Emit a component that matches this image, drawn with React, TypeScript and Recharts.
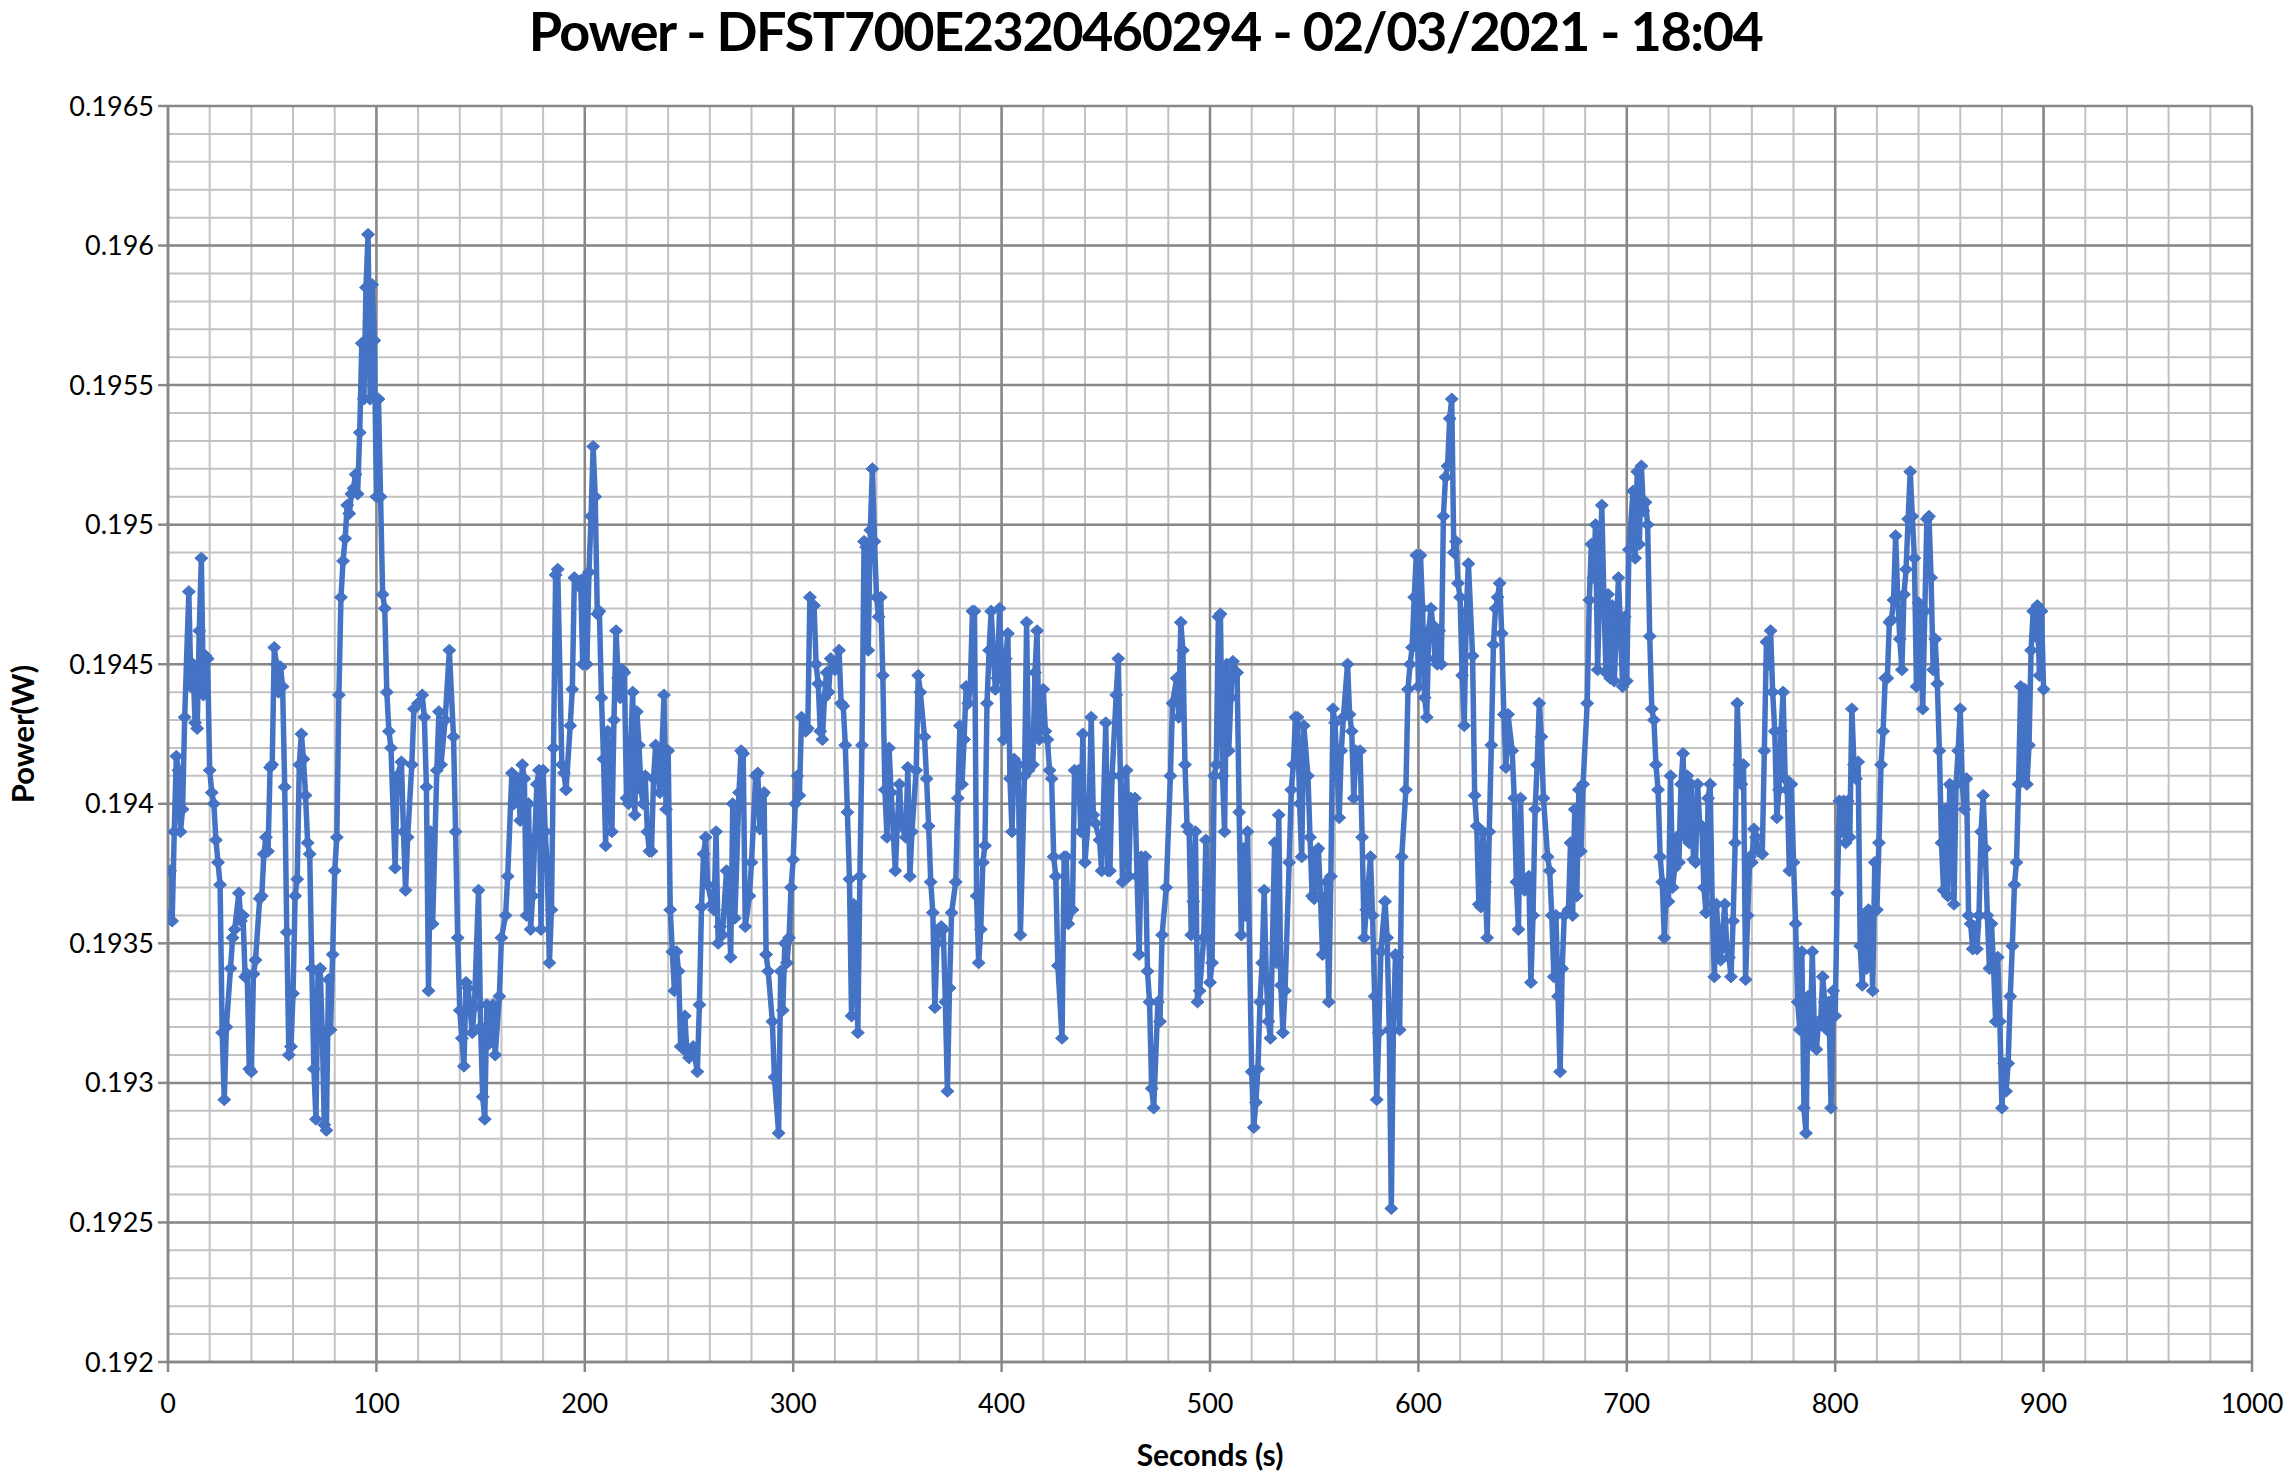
import React from 'react';
import { LineChart, Line, XAxis, YAxis, CartesianGrid } from 'recharts';

// ---------- data ----------
const sec000 = [0,1,2,3,4,5,6,7,8,10,11,12,13,14,15,16,17,18,19,20,21,22,23,24,25,26,27,28,30,31,32,34,35,36,37,38,39,40,41,42,44,45,46,47,48,49,50,51,52,53,54,55,56,57,58,59,60,61,62,63,64,65,66,67,68,69,70,71,72,73,74,75,76,77,78,79,80,81,82,83,84,85,86,87,88,89,90,91,92,93,94,95,96,97,98,99];
const pow000 = [0.19360,0.19376,0.19358,0.19390,0.19417,0.19412,0.19390,0.19398,0.19431,0.19476,0.19442,0.19450,0.19429,0.19427,0.19462,0.19488,0.19439,0.19453,0.19452,0.19412,0.19404,0.19400,0.19387,0.19379,0.19371,0.19318,0.19294,0.19320,0.19341,0.19352,0.19355,0.19368,0.19358,0.19360,0.19338,0.19339,0.19305,0.19304,0.19339,0.19344,0.19366,0.19367,0.19382,0.19388,0.19383,0.19413,0.19414,0.19456,0.19450,0.19440,0.19449,0.19442,0.19406,0.19354,0.19310,0.19313,0.19332,0.19367,0.19373,0.19414,0.19425,0.19416,0.19403,0.19386,0.19382,0.19341,0.19305,0.19287,0.19340,0.19341,0.19319,0.19285,0.19283,0.19337,0.19319,0.19346,0.19376,0.19388,0.19439,0.19474,0.19487,0.19495,0.19507,0.19504,0.19511,0.19513,0.19518,0.19511,0.19533,0.19565,0.19545,0.19585,0.19604,0.19545,0.19586,0.19566];

const sec100 = [100,101,102,103,104,105,106,107,109,110,112,113,114,115,117,118,120,122,123,124,125,126,127,129,130,131,133,135,137,138,139,140,141,142,143,144,146,147,149,150,151,152,153,154,156,157,159,160,162,163,165,166,168,169,170,171,172,173,174,175,176,177,178,179,180,181,182,183,184,185,186,187,189,190,191,193,194,195,197,198,199];
const pow100 = [0.19510,0.19545,0.19510,0.19475,0.19470,0.19440,0.19426,0.19420,0.19377,0.19410,0.19415,0.19390,0.19369,0.19388,0.19414,0.19434,0.19436,0.19439,0.19431,0.19406,0.19333,0.19390,0.19357,0.19412,0.19433,0.19414,0.19430,0.19455,0.19424,0.19390,0.19352,0.19326,0.19316,0.19306,0.19336,0.19334,0.19318,0.19327,0.19369,0.19320,0.19295,0.19287,0.19328,0.19314,0.19328,0.19310,0.19331,0.19352,0.19360,0.19374,0.19411,0.19400,0.19409,0.19394,0.19414,0.19409,0.19360,0.19400,0.19355,0.19367,0.19388,0.19407,0.19412,0.19355,0.19412,0.19390,0.19377,0.19343,0.19362,0.19420,0.19482,0.19484,0.19414,0.19411,0.19405,0.19428,0.19441,0.19481,0.19478,0.19480,0.19450];

const sec200 = [200,201,202,203,204,205,206,207,208,209,210,211,213,214,215,216,217,218,219,220,221,222,223,224,225,226,227,228,229,230,231,232,233,234,236,237,238,239,240,241,242,243,244,245,246,248,249,250,252,254,255,256,257,258,259,261,262,263,264,265,266,268,269,270,271,272,274,275,276,277,279,280,282,283,284,285,286,287,288,290,291,293,294,295,296,297,298,299];
const pow200 = [0.19481,0.19450,0.19483,0.19503,0.19528,0.19510,0.19468,0.19469,0.19438,0.19416,0.19385,0.19426,0.19390,0.19430,0.19462,0.19445,0.19438,0.19448,0.19447,0.19402,0.19400,0.19421,0.19440,0.19396,0.19433,0.19421,0.19405,0.19400,0.19410,0.19390,0.19383,0.19383,0.19409,0.19421,0.19404,0.19419,0.19439,0.19398,0.19419,0.19362,0.19347,0.19333,0.19347,0.19340,0.19313,0.19324,0.19311,0.19309,0.19313,0.19304,0.19328,0.19363,0.19382,0.19388,0.19371,0.19364,0.19362,0.19390,0.19350,0.19356,0.19353,0.19376,0.19367,0.19345,0.19400,0.19359,0.19404,0.19419,0.19418,0.19356,0.19367,0.19379,0.19410,0.19411,0.19391,0.19403,0.19404,0.19346,0.19340,0.19322,0.19302,0.19282,0.19340,0.19326,0.19350,0.19343,0.19352,0.19370];

const sec300 = [300,301,302,303,304,306,307,308,310,311,312,313,314,315,316,317,318,320,322,323,324,325,326,327,328,329,330,331,332,333,334,335,336,337,338,339,340,341,342,343,344,345,346,347,349,350,351,352,354,355,356,357,359,360,361,363,364,365,366,367,368,369,370,371,372,373,374,375,376,378,379,380,381,382,383,384,385,386,387,388,389,390,391,392,393,394,395,396,397,398,399];
const pow300 = [0.19380,0.19400,0.19410,0.19403,0.19431,0.19426,0.19427,0.19474,0.19471,0.19450,0.19443,0.19426,0.19423,0.19438,0.19447,0.19440,0.19452,0.19448,0.19455,0.19436,0.19435,0.19421,0.19397,0.19373,0.19324,0.19364,0.19362,0.19318,0.19374,0.19421,0.19494,0.19492,0.19455,0.19498,0.19520,0.19494,0.19474,0.19467,0.19474,0.19446,0.19405,0.19388,0.19420,0.19404,0.19376,0.19393,0.19407,0.19392,0.19388,0.19413,0.19374,0.19390,0.19412,0.19446,0.19440,0.19424,0.19409,0.19392,0.19372,0.19361,0.19327,0.19350,0.19355,0.19356,0.19355,0.19329,0.19297,0.19334,0.19361,0.19372,0.19402,0.19428,0.19407,0.19423,0.19442,0.19436,0.19442,0.19469,0.19469,0.19367,0.19343,0.19355,0.19379,0.19385,0.19436,0.19455,0.19469,0.19455,0.19441,0.19445,0.19470];

const sec400 = [400,401,402,403,404,405,406,408,409,411,412,413,415,416,417,418,420,421,422,423,424,425,426,427,429,430,431,432,434,435,437,438,439,440,442,443,444,445,447,448,450,451,452,453,455,456,457,458,460,461,462,464,465,466,467,469,470,471,472,473,475,476,477,479,481,482,484,485,486,487,488,489,490,491,492,493,494,495,497,498,499];
const pow400 = [0.19450,0.19423,0.19452,0.19461,0.19409,0.19390,0.19416,0.19414,0.19353,0.19410,0.19465,0.19412,0.19414,0.19447,0.19462,0.19423,0.19441,0.19426,0.19423,0.19412,0.19409,0.19381,0.19374,0.19342,0.19316,0.19381,0.19381,0.19357,0.19362,0.19412,0.19412,0.19390,0.19425,0.19379,0.19398,0.19431,0.19396,0.19393,0.19387,0.19376,0.19429,0.19376,0.19376,0.19410,0.19439,0.19452,0.19410,0.19372,0.19412,0.19374,0.19402,0.19402,0.19374,0.19346,0.19381,0.19381,0.19340,0.19329,0.19298,0.19291,0.19329,0.19322,0.19353,0.19370,0.19410,0.19436,0.19445,0.19431,0.19465,0.19455,0.19414,0.19392,0.19390,0.19353,0.19365,0.19390,0.19329,0.19333,0.19352,0.19387,0.19369];

const sec500 = [500,501,502,503,504,505,506,507,508,509,510,511,513,514,515,516,517,518,520,521,522,523,524,525,526,527,528,529,531,532,533,534,535,536,538,539,540,541,542,543,544,545,547,548,549,550,551,552,553,554,556,557,558,559,560,562,563,564,566,567,568,569,570,572,573,574,575,577,578,579,580,581,582,584,585,586,587,588,589,590,591,592,594,595,596,597,598,599];
const pow500 = [0.19336,0.19343,0.19410,0.19414,0.19467,0.19468,0.19410,0.19390,0.19450,0.19419,0.19438,0.19451,0.19447,0.19397,0.19353,0.19384,0.19360,0.19390,0.19304,0.19284,0.19293,0.19305,0.19329,0.19343,0.19369,0.19338,0.19322,0.19316,0.19386,0.19343,0.19396,0.19335,0.19318,0.19333,0.19379,0.19405,0.19414,0.19431,0.19431,0.19400,0.19381,0.19428,0.19410,0.19388,0.19367,0.19366,0.19383,0.19384,0.19367,0.19346,0.19372,0.19329,0.19374,0.19434,0.19429,0.19395,0.19419,0.19431,0.19450,0.19432,0.19426,0.19402,0.19419,0.19419,0.19388,0.19352,0.19362,0.19381,0.19360,0.19331,0.19294,0.19318,0.19347,0.19365,0.19352,0.19319,0.19255,0.19319,0.19346,0.19345,0.19319,0.19381,0.19405,0.19441,0.19450,0.19456,0.19474,0.19489];

const sec600 = [600,601,602,603,604,605,606,607,608,609,610,611,612,613,614,615,616,617,618,619,620,621,622,623,624,626,627,628,629,630,631,632,633,634,635,636,637,638,639,640,641,642,643,645,646,647,648,649,650,651,653,654,655,656,657,658,659,660,662,663,664,665,666,667,668,669,670,672,673,674,675,676,677,678,679,681,682,683,684,685,686,688,689,690,691,692,693,694,696,697,698,699];
const pow600 = [0.19442,0.19489,0.19470,0.19438,0.19431,0.19462,0.19470,0.19464,0.19452,0.19450,0.19462,0.19450,0.19503,0.19517,0.19521,0.19538,0.19545,0.19490,0.19494,0.19479,0.19474,0.19446,0.19428,0.19469,0.19486,0.19453,0.19403,0.19392,0.19364,0.19363,0.19390,0.19372,0.19352,0.19390,0.19421,0.19457,0.19470,0.19474,0.19479,0.19461,0.19432,0.19413,0.19432,0.19419,0.19402,0.19372,0.19355,0.19402,0.19371,0.19369,0.19374,0.19336,0.19360,0.19398,0.19414,0.19436,0.19424,0.19402,0.19381,0.19376,0.19360,0.19338,0.19360,0.19331,0.19304,0.19341,0.19360,0.19362,0.19386,0.19360,0.19398,0.19367,0.19405,0.19383,0.19407,0.19436,0.19473,0.19493,0.19481,0.19500,0.19448,0.19507,0.19474,0.19447,0.19475,0.19445,0.19471,0.19444,0.19481,0.19462,0.19442,0.19467];

const sec700 = [700,701,703,704,705,706,707,708,709,710,711,712,713,714,715,716,717,718,719,720,721,722,723,724,725,726,727,728,729,730,731,732,733,734,735,736,737,738,739,740,741,742,743,744,745,747,748,749,750,751,752,753,754,755,756,757,758,759,760,761,762,763,765,766,767,768,769,770,771,772,773,774,775,776,777,778,779,780,781,782,783,784,785,786,787,788,789,790,791,792,793,794,795,796,797,798,799];
const pow700 = [0.19444,0.19491,0.19512,0.19488,0.19519,0.19493,0.19521,0.19505,0.19508,0.19500,0.19460,0.19434,0.19430,0.19414,0.19405,0.19381,0.19372,0.19352,0.19370,0.19365,0.19410,0.19370,0.19377,0.19388,0.19379,0.19407,0.19418,0.19388,0.19410,0.19386,0.19407,0.19380,0.19379,0.19407,0.19392,0.19392,0.19370,0.19361,0.19402,0.19407,0.19364,0.19338,0.19364,0.19351,0.19344,0.19364,0.19348,0.19345,0.19338,0.19358,0.19386,0.19436,0.19414,0.19407,0.19414,0.19337,0.19360,0.19381,0.19379,0.19391,0.19388,0.19383,0.19382,0.19419,0.19458,0.19450,0.19462,0.19440,0.19426,0.19395,0.19405,0.19426,0.19440,0.19409,0.19405,0.19376,0.19407,0.19379,0.19357,0.19329,0.19319,0.19347,0.19291,0.19282,0.19331,0.19314,0.19347,0.19319,0.19312,0.19322,0.19321,0.19338,0.19329,0.19319,0.19329,0.19291,0.19333];

const sec800 = [800,801,802,803,804,805,806,807,808,809,810,811,812,813,814,815,816,817,818,819,820,821,822,823,824,825,826,827,828,829,830,831,832,833,834,835,836,837,838,839,840,841,842,843,844,845,846,847,848,849,850,851,852,853,854,855,856,857,858,859,860,861,862,863,864,865,866,867,868,869,870,871,872,873,874,875,876,877,878,879,880,881,882,883,884,885,886,887,888,889,890,891,892,893,894,895,896,897,898,899,900];
const pow800 = [0.19324,0.19368,0.19401,0.19390,0.19401,0.19386,0.19401,0.19388,0.19434,0.19414,0.19409,0.19415,0.19349,0.19335,0.19360,0.19341,0.19362,0.19360,0.19333,0.19379,0.19362,0.19386,0.19414,0.19426,0.19445,0.19445,0.19465,0.19466,0.19473,0.19496,0.19474,0.19459,0.19448,0.19475,0.19484,0.19502,0.19519,0.19503,0.19488,0.19442,0.19472,0.19467,0.19434,0.19469,0.19502,0.19503,0.19481,0.19448,0.19459,0.19443,0.19419,0.19386,0.19369,0.19398,0.19367,0.19407,0.19406,0.19364,0.19407,0.19419,0.19434,0.19407,0.19398,0.19409,0.19360,0.19357,0.19348,0.19356,0.19348,0.19360,0.19390,0.19403,0.19384,0.19360,0.19341,0.19357,0.19341,0.19322,0.19345,0.19322,0.19291,0.19307,0.19297,0.19307,0.19331,0.19349,0.19371,0.19379,0.19407,0.19442,0.19409,0.19441,0.19407,0.19421,0.19455,0.19469,0.19460,0.19471,0.19446,0.19469,0.19441];

const xTicks = [0, 100, 200, 300, 400, 500, 600, 700, 800, 900, 1000];
const yTicks = [0.192, 0.1925, 0.193, 0.1935, 0.194, 0.1945, 0.195, 0.1955, 0.196, 0.1965];

const TITLE = 'Power - DFST700E2320460294 - 02/03/2021 - 18:04';
const X_TITLE = 'Seconds (s)';
const Y_TITLE = 'Power(W)';

// ---------- table built from the arrays ----------
const secBlocks = [sec000, sec100, sec200, sec300, sec400, sec500, sec600, sec700, sec800];
const powBlocks = [pow000, pow100, pow200, pow300, pow400, pow500, pow600, pow700, pow800];
const data: { sec: number; power: number }[] = [];
secBlocks.forEach((secs, b) => {
  secs.forEach((s, i) => data.push({ sec: s, power: powBlocks[b][i] }));
});

// minor grid values (every 20 s, every 0.0001 W)
const xMinor: number[] = [];
for (let s = 0; s <= 1000; s += 20) xMinor.push(s);
const yMinor: number[] = [];
for (let i = 0; i <= 45; i++) yMinor.push(+(0.192 + i * 0.0001).toFixed(4));

// ---------- layout ----------
const W = 2291;
const H = 1476;
const Y_AXIS_W = 100;
const X_AXIS_H = 60;
const margin = { top: 106, right: 39, left: 168 - Y_AXIS_W, bottom: 1476 - 1362 - X_AXIS_H };
const FONT = 'Lato, "Open Sans", sans-serif';
const BLUE = '#4472C4';

const Diamond = (props: any) => {
  const { cx, cy, index } = props;
  if (cx == null || cy == null) return null;
  return (
    <path
      key={`d-${index}`}
      d={`M${cx},${cy - 6}L${cx + 6.5},${cy}L${cx},${cy + 6}L${cx - 6.5},${cy}Z`}
      fill={BLUE}
      stroke={BLUE}
      strokeWidth={1}
    />
  );
};

export default function App() {
  return (
    <div style={{ position: 'absolute', left: 0, top: 0, width: W, height: H, background: '#fff', fontFamily: FONT }}>
      <LineChart width={W} height={H} data={data} margin={margin}>
        <CartesianGrid
          horizontalValues={yMinor}
          verticalValues={xMinor}
          stroke="#c2c2c2"
          strokeWidth={2}
        />
        <CartesianGrid
          horizontalValues={yTicks}
          verticalValues={xTicks}
          stroke="#888888"
          strokeWidth={2.5}
        />
        <XAxis
          dataKey="sec"
          type="number"
          domain={[0, 1000]}
          ticks={xTicks}
          allowDataOverflow
          height={X_AXIS_H}
          tickSize={10}
          tickMargin={22}
          axisLine={{ stroke: '#888888', strokeWidth: 2.5 }}
          tickLine={{ stroke: '#888888', strokeWidth: 2.5 }}
          tick={{ fontSize: 27, fill: '#000', fontFamily: FONT }}
        />
        <YAxis
          type="number"
          domain={[0.192, 0.1965]}
          ticks={yTicks}
          allowDataOverflow
          width={Y_AXIS_W}
          tickSize={10}
          tickMargin={4}
          axisLine={{ stroke: '#888888', strokeWidth: 2.5 }}
          tickLine={{ stroke: '#888888', strokeWidth: 2.5 }}
          tick={{ fontSize: 27, fill: '#000', fontFamily: FONT }}
        />
        <Line
          type="linear"
          dataKey="power"
          stroke={BLUE}
          strokeWidth={5.5}
          strokeLinejoin="round"
          dot={<Diamond />}
          activeDot={false}
          isAnimationActive={false}
        />
      </LineChart>
      <div
        style={{
          position: 'absolute', left: 0, top: 2, width: W, textAlign: 'center', letterSpacing: '-1.5px',
          fontSize: 54, fontWeight: 700, lineHeight: '58px', color: '#000', whiteSpace: 'nowrap',
        }}
      >
        {TITLE}
      </div>
      <div
        style={{
          position: 'absolute', left: 1210, top: 1454, transform: 'translate(-50%, -50%)',
          fontSize: 30, fontWeight: 700, color: '#000', whiteSpace: 'nowrap', lineHeight: '34px',
        }}
      >
        {X_TITLE}
      </div>
      <div
        style={{
          position: 'absolute', left: 22, top: 734, transform: 'translate(-50%, -50%) rotate(-90deg)',
          fontSize: 31, fontWeight: 700, color: '#000', whiteSpace: 'nowrap', lineHeight: '34px',
        }}
      >
        {Y_TITLE}
      </div>
    </div>
  );
}
